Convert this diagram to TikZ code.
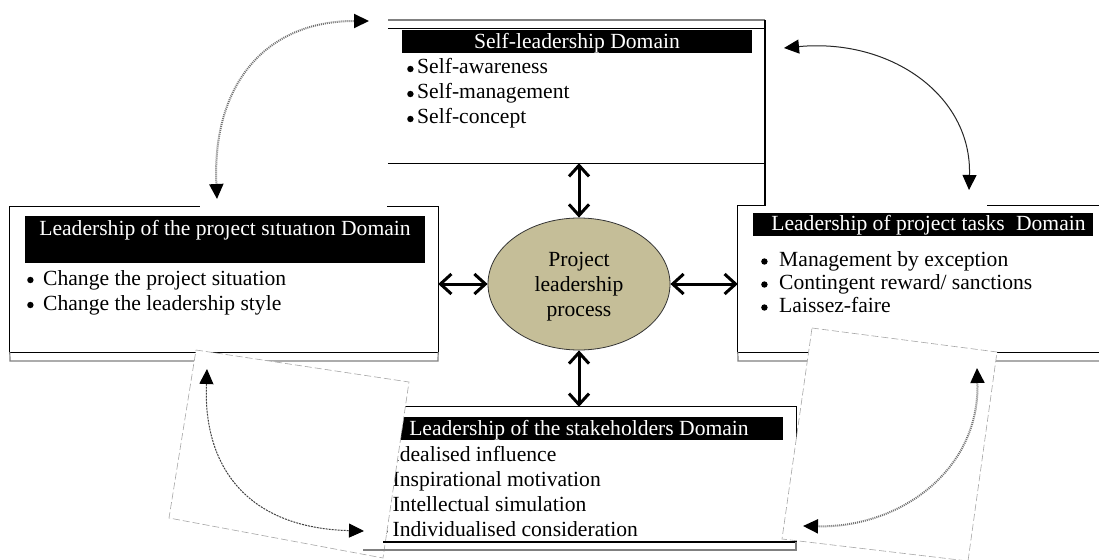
\documentclass[tikz,border=0pt]{standalone}
\usepackage{fontspec}
\setmainfont{Liberation Serif}
\usetikzlibrary{arrows.meta,shapes.geometric}
\definecolor{procfill}{RGB}{197,190,152}
\newcommand{\dfont}{\fontsize{21.6}{25}\selectfont}
% round bullet sitting just above the baseline
\newcommand{\bul}{\tikz[baseline=0pt]\fill (3.2pt,5pt) circle[radius=3.2pt];}
\begin{document}
\begin{tikzpicture}[x=1pt,y=-1pt,
  frame/.style={line width=1.2pt,black},
  shade/.style={line width=1.2pt,black!50},
  hdrbar/.style={fill=black},
  hdrtext/.style={text=white,font=\dfont,inner sep=0pt,anchor=base},
  item/.style={font=\dfont,inner sep=0pt,anchor=base west},
  area/.style={draw=none,inner sep=0pt,rectangle},
  link/.style={line width=3pt,{Straight Barb[length=11pt,width=20pt]}-{Straight Barb[length=11pt,width=20pt]}},
  patch/.style={fill=white,draw=none},
  sheet/.style={fill=white,draw=black!35,line width=0.6pt,dash pattern=on 7pt off 3pt},
  turn/.style={{Triangle[length=15pt,width=14pt,color=black]}-{Triangle[length=15pt,width=14pt,color=black]}},
  speckled/.style={line width=2pt,black!55,dash pattern=on 1pt off 1pt},
  finedot/.style={line width=1pt,black!75,dash pattern=on 2pt off 1pt},
  fineline/.style={line width=1pt,black!85},
]
\useasboundingbox (0,0) rectangle (1099,559);

% areas of the four domain boxes
\node[area,minimum width=377pt,minimum height=134pt] (selfbox)  at (576.5,96)  {};
\node[area,minimum width=428pt,minimum height=145pt] (sitbox)   at (224,279.5) {};
\node[area,minimum width=367pt,minimum height=146pt] (taskbox)  at (921.5,279) {};
\node[area,minimum width=426pt,minimum height=135pt] (stakebox) at (583,474.5) {};

% self-leadership domain
\draw[shade] (388,20) -- (765,20);
\draw[frame] (selfbox.north west) -- (selfbox.north east);
\draw[frame] (selfbox.south west) -- (selfbox.south east);
\draw[frame] (765,20) -- (765,206);
\fill[hdrbar] (402,30) rectangle (752,53);
\node[hdrtext] (selfhead) at (577,49) {Self-leadership Domain};
\node[item] (self1) at (407,74)  {\bul\hspace{3.6pt}Self-awareness};
\node[item] (self2) at (407,99)  {\bul\hspace{3.6pt}Self-management};
\node[item] (self3) at (407,124) {\bul\hspace{3.6pt}Self-concept};

% project situation domain
\draw[frame] (sitbox.south west) rectangle (sitbox.north east);
\draw[shade] (sitbox.south west) -- (10,361) -- (438,361) -- (sitbox.south east);
\fill[hdrbar] (25,216) rectangle (425,263);
\node[hdrtext] (sithead) at (225,235) {Leadership of the pro\j ect s\i tuat\i on Domain};
\node[item] (sit1) at (27,285) {\bul\hspace{9.6pt}Change the project situation};
\node[item] (sit2) at (27,310) {\bul\hspace{9.6pt}Change the leadership style};

% project tasks domain
\draw[frame] (taskbox.north east) -- (taskbox.north west) -- (taskbox.south west) -- (taskbox.south east);
\draw[shade] (taskbox.south west) -- (738,361) -- (1105,361);
\fill[hdrbar] (753,213) rectangle (1093,236);
\node[hdrtext] (taskhead) at (928.5,230.5) {Leadership of project tasks\hspace{6pt} Domain};
\node[item] (task1) at (761,266.5) {\bul\hspace{11.6pt}Management by exception};
\node[item] (task2) at (761,289.5) {\bul\hspace{11.6pt}Contingent reward/ sanctions};
\node[item] (task3) at (761,312.5) {\bul\hspace{11.6pt}Laissez-faire};

% stakeholders domain
\draw[frame] (stakebox.south west) rectangle (stakebox.north east);
\fill[hdrbar] (375,417) rectangle (783,440);
\node[hdrtext] (stakehead) at (579,435) {Leadership of the stakeholders Domain};
\node[item] (stake1) at (381,461.5) {\bul\hspace{5pt}Idealised influence};
\node[item] (stake2) at (381,486.5) {\bul\hspace{5pt}Inspirational motivation};
\node[item] (stake3) at (381,511.5) {\bul\hspace{5pt}Intellectual simulation};
\node[item] (stake4) at (381,536.5) {\bul\hspace{5pt}Individualised consideration};

% central process
\node[ellipse,draw=black!80,line width=0.8pt,fill=procfill,minimum width=182pt,
      minimum height=132pt,inner sep=0pt,align=center,font=\dfont] (plp) at (579,284)
      {Project\\leadership\\\raisebox{0pt}[\height][0pt]{process}};

\draw[link] (plp.north) -- (plp.north |- selfbox.south);
\draw[link] (plp.south) -- (plp.south |- stakebox.north);
\draw[link] (plp.west)  -- (plp.west -| sitbox.east);
\draw[link] (plp.east)  -- (plp.east -| taskbox.west);

% pasted sheets carrying the cycle arrows
\fill[patch] (200,0) rectangle (387.4,212);
\fill[patch] (766,0) rectangle (987,208.5);
\filldraw[sheet] (196,350) -- (409,382) -- (383,558) -- (169,518) -- cycle;
\filldraw[sheet] (812,328) -- (997,352) -- (968,561) -- (782,539) -- cycle;

% lower edge of the stakeholders box
\draw[frame] (383,542) -- (796,542);
\draw[shade] (363,550) -- (796,550) -- (796,542);

% cycle arrows between neighbouring domains
\coordinate (tlA) at (217,199);
\coordinate (tlB) at (369,21);
\coordinate (trA) at (784,48);
\coordinate (trB) at (969,190);
\coordinate (blA) at (207,369);
\coordinate (blB) at (364,531);
\coordinate (brA) at (977,368);
\coordinate (brB) at (803,526);
\draw[turn,speckled] (tlA) .. controls (212,85) and (265,21) .. (tlB);
\draw[turn,fineline] (trA) .. controls (890,38) and (972,95) .. (trB);
\draw[turn,finedot] (blA) .. controls (203,470) and (250,528) .. (blB);
\draw[turn,speckled] (brA) .. controls (980,470) and (900,528) .. (brB);
\end{tikzpicture}
\end{document}
